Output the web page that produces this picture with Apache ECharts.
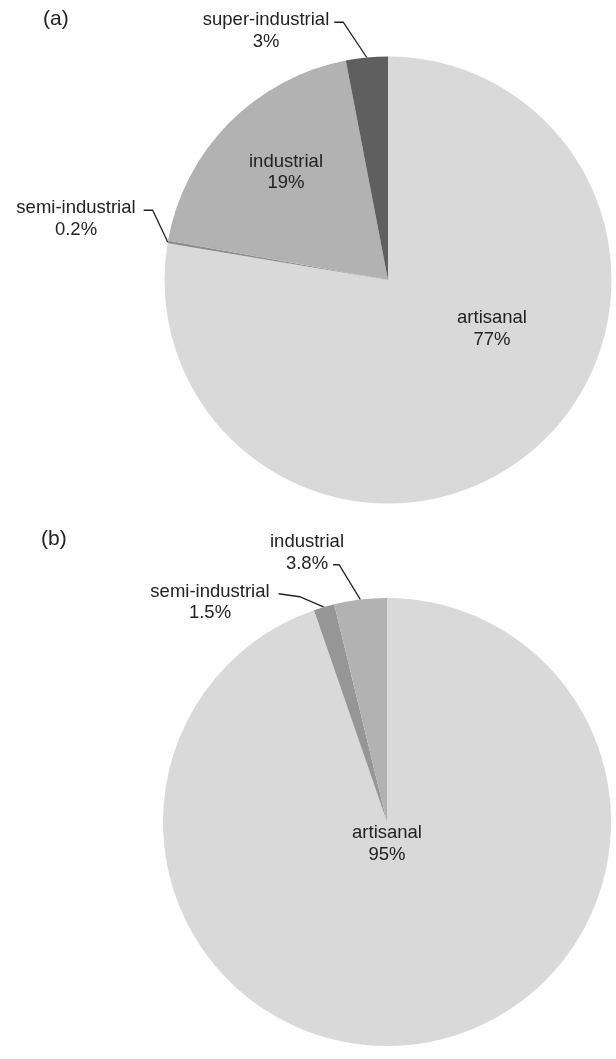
<!DOCTYPE html>
<html><head><meta charset="utf-8">
<script src="https://cdn.jsdelivr.net/npm/echarts@6/dist/echarts.min.js"></script>
<style>html,body{margin:0;padding:0;background:#fff}#c{width:616px;height:1059px}</style>
</head><body><div id="c"></div>
<script>
// ---- data ----
const categoriesA = ['artisanal', 'semi-industrial', 'industrial', 'super-industrial'];
const valuesA = [77, 0.2, 19, 3];
const pctLabelsA = ['77%', '0.2%', '19%', '3%'];
const categoriesB = ['artisanal', 'semi-industrial', 'industrial'];
const valuesB = [95, 1.5, 3.8];
const pctLabelsB = ['95%', '1.5%', '3.8%'];
const panelTitles = ['(a)', '(b)'];

// ---- styles / layout ----
const colorsA = ['#d9d9d9', '#8e8e8e', '#b2b2b2', '#5f5f5f'];
const colorsB = ['#d9d9d9', '#969696', '#b2b2b2'];
const FONT = '"Liberation Sans", Arial, sans-serif';
const FS = 18.5, LH = 21.5, TXT = '#222';
const labelPosA = [[492, 329], [76, 219], [286, 172.5], [266, 31]];
const labelPosB = [[387, 844], [210, 602.5], [307, 553]];
const leaderA = [null, {line: 0, gap: 8, ex: 17, d2: 2, d1: 2}, null, {line: 0, gap: 5, ex: 14, d2: 2, d1: 2}];
const leaderB = [null, {line: 0, gap: 9, ex: 30, d2: 2, d1: 5}, {line: 1, gap: 5, ex: 11, d2: 1, d1: 1}];

const mctx = document.createElement('canvas').getContext('2d');
mctx.font = FS + 'px ' + FONT;
function measure(t) { return mctx.measureText(t).width; }

function makeLayout(pos, leaders, names, pcts) {
  return function (p) {
    const i = p.dataIndex;
    const cx = pos[i][0], cy = pos[i][1];
    const res = {x: cx, y: cy, align: 'center', verticalAlign: 'middle'};
    const L = leaders[i];
    if (L && p.labelLinePoints) {
      const txt = L.line === 0 ? names[i] : pcts[i];
      const right = cx + measure(txt) / 2;
      const lineY = cy + (L.line - 0.5) * LH;
      const e = p.labelLinePoints[0];
      res.labelLinePoints = [[e[0], e[1]], [right + L.ex, lineY + L.d1], [right + L.gap, lineY + L.d2]];
    }
    return res;
  };
}

function makeSeries(center, radius, names, values, pcts, colors, pos, leaders) {
  return {
    type: 'pie',
    center: center,
    radius: radius,
    startAngle: 90,
    clockwise: true,
    avoidLabelOverlap: false,
    animation: false,
    data: names.map((n, i) => ({
      name: n,
      value: values[i],
      itemStyle: {color: colors[i]},
      label: {position: leaders[i] ? 'outside' : 'inside'},
      labelLine: {show: !!leaders[i]}
    })),
    label: {
      show: true,
      formatter: (p) => p.name + '\n' + pcts[p.dataIndex],
      fontSize: FS, fontFamily: FONT, color: TXT, lineHeight: LH, align: 'center'
    },
    labelLine: {length: 5, length2: 5, smooth: false, lineStyle: {color: TXT, width: 1.3}},
    labelLayout: makeLayout(pos, leaders, names, pcts),
    emphasis: {disabled: true}
  };
}

const chart = echarts.init(document.getElementById('c'), null, {renderer: 'canvas'});
chart.setOption({
  backgroundColor: '#fff',
  animation: false,
  graphic: [
    {type: 'text', left: 43, top: 9, style: {text: panelTitles[0], font: '21px ' + FONT, fill: TXT}},
    {type: 'text', left: 41, top: 529, style: {text: panelTitles[1], font: '21px ' + FONT, fill: TXT}}
  ],
  series: [
    makeSeries([388, 280], 223.5, categoriesA, valuesA, pctLabelsA, colorsA, labelPosA, leaderA),
    makeSeries([387, 822], 224, categoriesB, valuesB, pctLabelsB, colorsB, labelPosB, leaderB)
  ]
});
</script>
</body></html>
